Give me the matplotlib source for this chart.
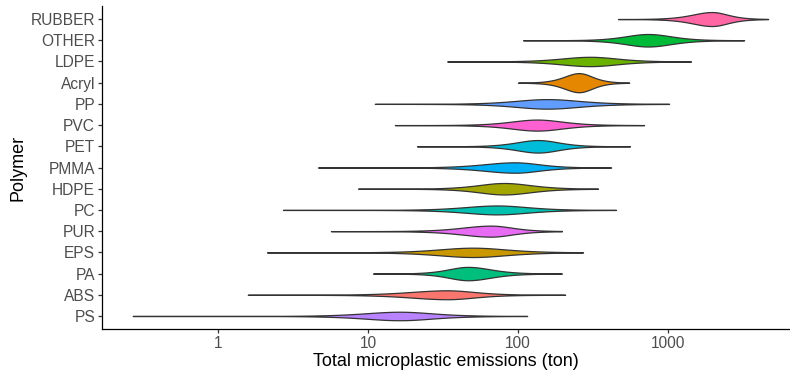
import numpy as np
import matplotlib.pyplot as plt

plt.rcParams['font.family'] = ['Liberation Sans', 'DejaVu Sans']

# bottom to top, as in the chart
polymers = ['PS', 'ABS', 'PA', 'EPS', 'PUR', 'PC', 'HDPE', 'PMMA', 'PET',
            'PVC', 'PP', 'Acryl', 'LDPE', 'OTHER', 'RUBBER']
lowest = [0.27, 1.58, 10.8, 2.12, 5.66, 2.71, 8.58, 4.64, 21.2,
          15.1, 11.1, 100, 33.7, 108, 464]
highest = [115, 206, 196, 271, 196, 450, 341, 417, 558,
           692, 1016, 550, 1422, 3214, 4645]
peak = [16.3, 33.7, 46.4, 50, 66, 72.4, 80.7, 95.5, 136,
        134, 156, 255, 302, 736, 1963]
# where the coloured body of each violin visibly ends
body_lo = [4.8, 9.3, 21.2, 14.7, 22.2, 23.3, 30.2, 30.2, 58.5,
           50.1, 50.1, 134, 108, 302, 885]
body_hi = [50.1, 88.5, 115, 163, 147, 212, 222, 233, 302,
           352, 501, 457, 794, 1820, 3690]
# violin thickness at the peak (category units)
thickness = [0.40, 0.42, 0.63, 0.44, 0.52, 0.42, 0.54, 0.49, 0.59,
             0.52, 0.45, 0.90, 0.44, 0.59, 0.66]

# ggplot default hue palette, levels in alphabetical order
levels = ['ABS', 'Acryl', 'EPS', 'HDPE', 'LDPE', 'OTHER', 'PA', 'PC', 'PET',
          'PMMA', 'PP', 'PS', 'PUR', 'PVC', 'RUBBER']
hues = ['#F8766D', '#E58700', '#C99800', '#A3A500', '#6BB100', '#00BA38',
        '#00BF7D', '#00C0AF', '#00BCD8', '#00B0F6', '#619CFF', '#B983FF',
        '#E76BF3', '#FD61D1', '#FF67A4']
colors = dict(zip(levels, hues))

fig = plt.figure(figsize=(7.9, 3.74), dpi=100)
ax = fig.add_axes([0.1291, 0.1211, 0.8709, 0.862])
ax.set_xscale('log')
ax.set_xlim(10 ** -0.7733, 10 ** 3.813)
ax.set_ylim(0.4, len(polymers) + 0.6)

px_per_unit = 0.862 * 374 / (len(polymers) + 0.2)
edge_px = 0.6

for i, name in enumerate(polymers):
    y0 = i + 1
    half_max = thickness[i] / 2
    k = np.arccosh(np.sqrt(half_max * px_per_unit / edge_px))
    c = np.log10(peak[i])
    s_left = (c - np.log10(body_lo[i])) / k
    s_right = (np.log10(body_hi[i]) - c) / k
    lx = np.linspace(np.log10(lowest[i]), np.log10(highest[i]), 600)
    d = lx - c
    s = np.where(d < 0, s_left, s_right)
    half = half_max / np.cosh(d / s) ** 2
    ax.fill_between(10 ** lx, y0 - half, y0 + half, facecolor=colors[name],
                    edgecolor='#333333', linewidth=0.9, zorder=2)

ax.set_yticks(range(1, len(polymers) + 1))
ax.set_yticklabels(polymers)
ax.set_xticks([1, 10, 100, 1000])
ax.set_xticklabels(['1', '10', '100', '1000'])
ax.xaxis.set_minor_locator(plt.NullLocator())

for side in ['top', 'right']:
    ax.spines[side].set_visible(False)
for side in ['left', 'bottom']:
    ax.spines[side].set_linewidth(0.9)
    ax.spines[side].set_color('black')
ax.tick_params(axis='both', length=3, width=0.9, color='#333333',
               labelcolor='#4D4D4D', labelsize=11.2, pad=2)

ax.set_xlabel('Total microplastic emissions (ton)', fontsize=13, color='black', labelpad=2)
ax.set_ylabel('Polymer', fontsize=13, color='black', labelpad=3)

plt.savefig('out.png', dpi=100)
